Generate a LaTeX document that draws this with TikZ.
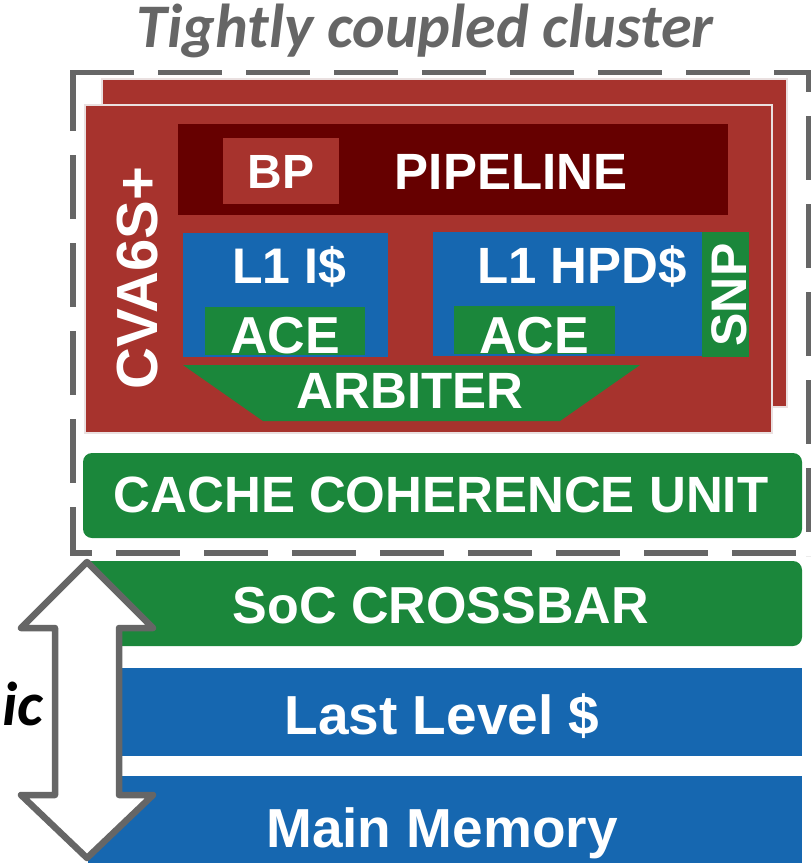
\documentclass[tikz,border=0pt]{standalone}
\usepackage{fontspec}
\setmainfont{Liberation Sans}
\newfontfamily\titlefont{Carlito}
\definecolor{cred}{RGB}{167,51,45}
\definecolor{cdark}{RGB}{102,0,0}
\definecolor{cblue}{RGB}{22,103,176}
\definecolor{cgreen}{RGB}{27,135,59}
\definecolor{cgray}{RGB}{102,102,102}
\definecolor{cedge}{RGB}{234,224,224}
\tikzset{
  lbl/.style={text=white, inner sep=0pt, anchor=base, font=\bfseries\fontsize{#1}{#1}\selectfont},
  ttl/.style={inner sep=0pt, font=\titlefont\bfseries\itshape\fontsize{62}{62}\selectfont},
  frame/.style={draw=cgray, line width=5.5pt, dash pattern=on 64pt off 24pt},
  redbox/.style={fill=cred, draw=cedge, line width=2.5pt},
  roundbox/.style={fill=cgreen, rounded corners=9pt},
  arrowshape/.style={draw=cgray, fill=white, line width=6.5pt, line join=round}
}
\begin{document}
\begin{tikzpicture}[x=1pt, y=-1pt]
\useasboundingbox (0,0) rectangle (811,863);

% title
\node[ttl, text=cgray, anchor=base] (title) at (425,47) {Tightly coupled cluster};

% dashed cluster frame
\draw[frame] (70.25,72.5) -- (811.75,72.5);
\draw[frame, dash phase=42pt] (809,69.75) -- (809,555.75);
\draw[frame, dash phase=42pt] (70.25,553) -- (811.75,553);
\draw[frame, dash phase=15pt] (73,555.75) -- (73,69.75);

% core boxes
\path[redbox] (102,79) rectangle (787,407);
\path[redbox] (85,105) rectangle (772,433);

\fill[cdark] (178,124) rectangle (728,215);
\fill[cred] (223,138) rectangle (339,204);
\fill[cblue] (183,233) rectangle (388,357);
\fill[cgreen] (205,307) rectangle (365,355);
\fill[cblue] (433,232) rectangle (702,356);
\fill[cgreen] (702,232) rectangle (749,357);
\fill[cgreen] (454,306) rectangle (615,354);
\fill[cgreen] (183,365) -- (640,365) -- (560,421) -- (263,421) -- cycle;

\node[lbl=58, rotate=90] (cva) at (157,278) {CVA6S+};
\node[lbl=48] (bp) at (281,188) {BP};
\node[lbl=51] (pipe) at (511,189) {PIPELINE};
\node[lbl=50] (l1i) at (289,283) {L1 I\$};
\node[lbl=51] (l1d) at (582,283) {L1 HPD\$};
\node[lbl=52] (acei) at (285,353) {ACE};
\node[lbl=52] (aced) at (534,353) {ACE};
\node[lbl=50, rotate=90] (snp) at (746,295) {SNP};
\node[lbl=51] (arb) at (410,408) {ARBITER};

% cache coherence unit
\path[roundbox] (83,453) rectangle (802,538);
\node[lbl=51] (ccu) at (441,512) {CACHE COHERENCE UNIT};

% lower system
\path[roundbox] (83,561) rectangle (802,646);
\fill[cblue] (88,668) rectangle (802,756);
\fill[cblue] (88,776) rectangle (802,870);

% double arrow
\draw[arrowshape] (87,562) -- (153,628) -- (119,628) -- (119,795) -- (153,795)
  -- (87,858) -- (21,795) -- (55,795) -- (55,628) -- (21,628) -- cycle;

\node[lbl=52] (xbar) at (441,623) {SoC CROSSBAR};
\node[lbl=55] (llc) at (442,734) {Last Level \$};
\node[lbl=55] (mem) at (442,847) {Main Memory};

\node[ttl, text=black, anchor=base west] (ic) at (2,725) {ic};
\end{tikzpicture}
\end{document}
